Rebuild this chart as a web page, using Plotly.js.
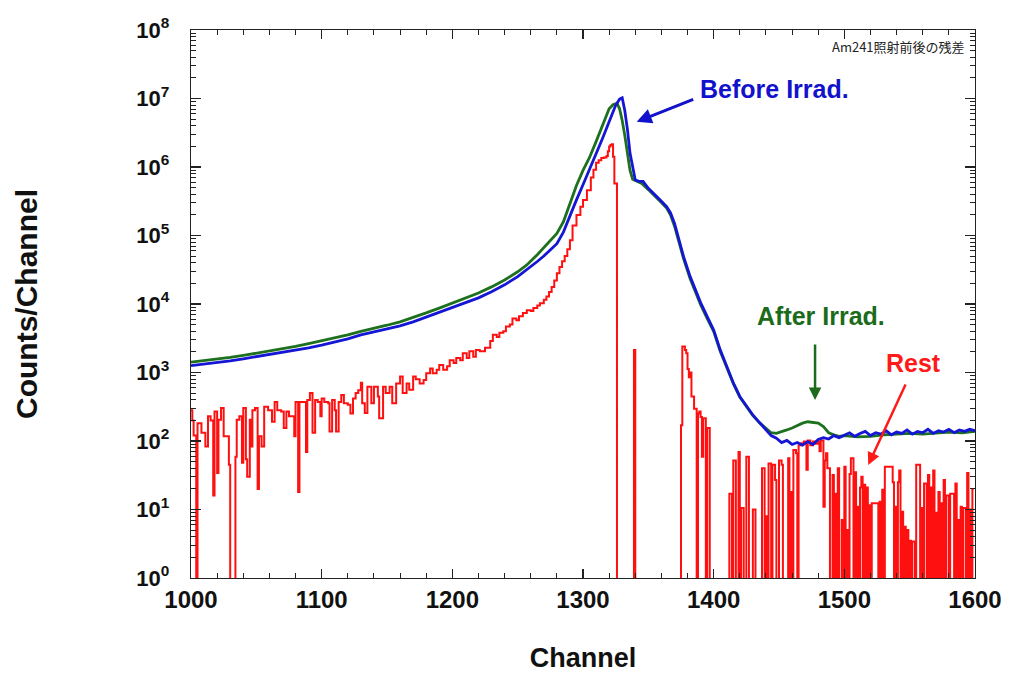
<!DOCTYPE html>
<html>
<head>
<meta charset="utf-8">
<script src="https://cdn.plot.ly/plotly-3.0.1.min.js"></script>
<style>html,body{margin:0;padding:0;background:#fff;}#chart{width:1011px;height:678px;}</style>
</head>
<body>
<div id="chart"></div>
<script>
// ---- Data (counts per channel) ----
const beforeChannels = [1000,1010,1020,1030,1040,1050,1060,1070,1080,1090,1100,1110,1120,1130,1140,1150,1160,1170,1180,1190,1200,1210,1220,1230,1240,1250,1257,1265,1270,1275,1280,1285,1290,1295,1300,1305,1310,1315,1320,1325,1328,1330,1332,1334,1336,1338,1340,1343,1346,1350,1355,1360,1364,1367,1370,1373,1377,1382,1386,1390,1395,1400,1405,1410,1415,1420,1425,1430,1435,1440,1444,1448,1452,1456,1460,1464,1468,1472,1476,1480,1484,1488,1492,1496,1500,1504,1508,1512,1516,1520,1524,1528,1532,1536,1540,1544,1548,1552,1556,1560,1564,1568,1572,1576,1580,1584,1588,1592,1596,1600];
const beforeCounts = [1259,1318,1413,1479,1585,1698,1820,1950,2138,2291,2512,2754,3090,3548,3890,4266,4786,5495,6457,7586,8913,10470,12300,15140,19050,25120,31620,41690,50120,61660,75860,112200,195000,331100,549500,912000,1514000,2630000,4571000,7943000,9772000,10230000,6607000,3548000,1585000,955000,645700,616600,616600,489800,398100,316200,263000,213800,151400,95500,48980,25120,15850,10470,6607,4169,2138,1259,708,447,331,240,186,145,120,110,95,102,89,95,87,98,89,105,112,107,120,112,123,132,117,129,138,120,132,126,141,123,135,129,145,126,138,132,148,129,141,135,148,132,145,138,148,141];

const afterChannels = [1000,1010,1020,1030,1040,1050,1060,1070,1080,1090,1100,1110,1120,1130,1140,1150,1160,1170,1180,1190,1200,1210,1220,1230,1240,1250,1257,1265,1270,1275,1280,1285,1290,1295,1300,1305,1310,1315,1320,1323,1326,1328,1330,1332,1334,1336,1338,1341,1345,1350,1355,1360,1364,1367,1370,1373,1377,1382,1386,1390,1395,1400,1405,1410,1415,1420,1425,1430,1435,1440,1444,1448,1452,1456,1460,1464,1468,1472,1476,1480,1484,1488,1492,1496,1500,1510,1520,1530,1540,1550,1560,1570,1580,1590,1600];
const afterCounts = [1413,1479,1585,1660,1778,1905,2042,2239,2399,2630,2884,3162,3548,3981,4365,4898,5495,6310,7413,8710,10230,12020,14450,17780,22390,29510,37150,52480,66070,85110,107200,158500,302000,537000,891300,1380000,2344000,4169000,7079000,8128000,8511000,7079000,4786000,2884000,1585000,891300,660700,616600,575400,467700,380200,302000,251200,199500,138000,87100,45710,23440,14790,9772,6166,3981,2042,1202,692,437,324,234,186,151,132,129,135,145,155,170,182,191,186,182,162,132,123,117,120,115,117,123,126,129,126,132,135,132,138];

const restChannels = [1000,1001,1002,1004,1005,1008,1011,1013,1015,1017,1018,1020,1021,1023,1025,1029,1030,1034,1035,1037,1039,1040,1042,1043,1045,1046,1047,1049,1051,1052,1054,1056,1059,1062,1064,1066,1069,1071,1073,1075,1078,1079,1080,1082,1083,1086,1088,1089,1091,1093,1095,1097,1099,1100,1102,1105,1106,1108,1110,1111,1113,1115,1117,1120,1122,1124,1126,1128,1130,1131,1133,1135,1138,1140,1143,1144,1147,1149,1152,1154,1157,1160,1162,1165,1167,1170,1172,1175,1178,1180,1183,1185,1188,1190,1193,1196,1198,1201,1203,1206,1208,1211,1213,1216,1218,1221,1225,1229,1231,1234,1236,1239,1241,1244,1246,1249,1251,1254,1257,1260,1262,1265,1267,1270,1272,1274,1276,1278,1280,1282,1284,1286,1288,1290,1292,1295,1298,1300,1303,1306,1308,1310,1312,1314,1316,1318,1319,1320,1321,1322,1323,1324,1326,1339,1340,1375,1376,1377,1378,1379,1380,1381,1382,1383,1385,1387,1388,1389,1390,1391,1392,1394,1395,1397,1412,1414,1415,1417,1419,1420,1421,1423,1425,1427,1430,1432,1437,1439,1440,1441,1442,1444,1445,1447,1448,1450,1452,1453,1457,1458,1459,1460,1461,1463,1464,1465,1467,1469,1471,1472,1474,1476,1478,1480,1481,1482,1484,1485,1486,1487,1489,1491,1492,1493,1494,1495,1496,1498,1499,1500,1501,1502,1503,1504,1505,1507,1508,1509,1510,1511,1512,1513,1514,1515,1516,1517,1518,1519,1520,1521,1526,1527,1528,1529,1530,1531,1537,1538,1539,1540,1541,1542,1543,1544,1545,1546,1547,1548,1549,1550,1551,1552,1554,1555,1558,1559,1560,1561,1563,1564,1565,1566,1567,1568,1569,1570,1571,1572,1573,1574,1575,1576,1577,1578,1580,1581,1584,1585,1586,1587,1588,1589,1590,1591,1593,1594,1595,1596,1597,1598,1599,1600];
const restCounts = [282,200,120,0.1,182,132,83,229,200,16,269,34,204,302,117,45,0.1,59,204,229,48,302,54,30,204,83,282,302,20,117,83,316,282,191,372,282,269,155,269,229,229,117,372,18,372,372,69,398,501,132,398,372,229,417,372,355,138,398,282,138,372,468,355,339,251,417,501,550,708,355,257,617,355,617,447,214,617,501,617,355,692,871,501,692,562,871,800,692,776,977,1148,977,1096,1288,1096,1230,1514,1380,1622,1514,1905,1622,2042,1698,2138,2042,2291,2884,3548,3300,3802,4000,4677,5000,6166,5800,6607,7400,8128,7900,8710,9500,10230,11500,12880,15000,17780,22000,28180,34670,42000,50000,63000,85000,140000,200000,263000,330000,457000,700000,912000,1150000,1250000,1350000,1380000,1450000,1700000,2000000,2100000,2140000,1410000,575000,0.1,2138,0.1,170,2399,2399,2138,1905,1122,851,1000,447,295,0.1,251,269,224,59,214,0.1,155,0.1,17,0.1,52,0.1,69,0.1,10.5,0.1,59,0.1,10,0.1,40,0.1,8,0.1,47,0.1,45,27,0.1,52,45,0.1,56,0.1,18,0.1,74,66,0.1,87,93,98,38,102,87,98,91,98,71,102,11,52,66,40,0.1,32,0.1,17,0.1,40,0.1,7,0.1,42,0.1,5,0.1,33,56,0.1,35,0.1,11,0.1,21,30,0.1,23,0.1,21,0.1,11.5,0.1,12.3,0.1,13,0.1,19.5,0.1,42,25,0.1,11,0.1,25,37,0.1,9.3,0.1,5.6,0.1,5,0.1,3.5,0.1,3.4,0.1,45,0.1,10.5,0.1,24,0.1,32,0.1,21,0.1,37,0.1,9,0.1,18,0.1,12.3,0.1,27,0.1,16,0.1,17,0.1,24,0.1,7,0.1,11,0.1,10.5,0.1,34,0.1,10,0.1,20,20];

const decades = [0,1,2,3,4,5,6,7,8];

// ---- Figure ----
const boldFont = 'Liberation Sans, Arial, sans-serif';
const traces = [
  {x: restChannels, y: restCounts, type: 'scatter', mode: 'lines', line: {color: '#ff1010', width: 2, shape: 'hv'}, name: 'Rest', hoverinfo: 'skip'},
  {x: afterChannels, y: afterCounts, type: 'scatter', mode: 'lines', line: {color: '#1d701d', width: 2.8}, name: 'After Irrad.', hoverinfo: 'skip'},
  {x: beforeChannels, y: beforeCounts, type: 'scatter', mode: 'lines', line: {color: '#1515d6', width: 2.8}, name: 'Before Irrad.', hoverinfo: 'skip'}
];

const layout = {
  width: 1011, height: 678,
  margin: {l: 191, r: 36, t: 30, b: 100},
  paper_bgcolor: '#fff', plot_bgcolor: '#fff',
  showlegend: false,
  xaxis: {
    range: [1000, 1600], dtick: 100, tick0: 1000,
    showgrid: false, zeroline: false,
    showline: true, linecolor: '#222', linewidth: 1.3, mirror: 'allticks',
    ticks: 'inside', ticklen: 9, tickwidth: 1.3, tickcolor: '#222',
    minor: {dtick: 20, ticks: 'inside', ticklen: 5, tickwidth: 1.1, tickcolor: '#222', showgrid: false},
    tickfont: {family: boldFont, size: 24, color: '#111', weight: 'bold'},
    ticklabelstandoff: 0,
    title: {text: 'Channel', font: {family: boldFont, size: 27, color: '#111', weight: 'bold'}, standoff: 36}
  },
  yaxis: {
    type: 'log', range: [0, 8],
    tickvals: decades.map(d => Math.pow(10, d)),
    ticktext: decades.map(d => '10<sup>' + d + '</sup>'),
    showgrid: false, zeroline: false,
    showline: true, linecolor: '#222', linewidth: 1.3, mirror: 'allticks',
    ticks: 'inside', ticklen: 10, tickwidth: 1.3, tickcolor: '#222',
    minor: {dtick: 'D1', ticks: 'inside', ticklen: 5, tickwidth: 1, tickcolor: '#222', showgrid: false},
    tickfont: {family: boldFont, size: 22, color: '#111', weight: 'bold'},
    ticklabelstandoff: 16,
    title: {text: 'Counts/Channel', font: {family: boldFont, size: 30, color: '#111', weight: 'bold'}, standoff: 89}
  },
  annotations: [
    {x: 1593.9, y: 7.752, xref: 'x', yref: 'y', text: 'Am241照射前後の残差', showarrow: false, xanchor: 'right', yanchor: 'middle',
     font: {family: 'Noto Sans CJK JP, sans-serif', size: 13, color: '#222'}},
    {x: 1446.9, y: 7.139, xref: 'x', yref: 'y', text: 'Before Irrad.', showarrow: false, xanchor: 'center', yanchor: 'middle',
     font: {family: boldFont, size: 25, color: '#1212cc', weight: 'bold'}},
    {x: 1341.1, y: 6.661, xref: 'x', yref: 'y', text: '', showarrow: true, ax: 58, ay: -23, arrowhead: 2, arrowsize: 1, arrowwidth: 3, arrowcolor: '#1212cc', standoff: 0},
    {x: 1482.1, y: 3.825, xref: 'x', yref: 'y', text: 'After Irrad.', showarrow: false, xanchor: 'center', yanchor: 'middle',
     font: {family: boldFont, size: 25, color: '#1b6b1b', weight: 'bold'}},
    {x: 1477.6, y: 2.599, xref: 'x', yref: 'y', text: '', showarrow: true, ax: 0, ay: -57, arrowhead: 2, arrowsize: 1, arrowwidth: 2.5, arrowcolor: '#1b6b1b', standoff: 0},
    {x: 1552.6, y: 3.139, xref: 'x', yref: 'y', text: 'Rest', showarrow: false, xanchor: 'center', yanchor: 'middle',
     font: {family: boldFont, size: 25, color: '#ff1a1a', weight: 'bold'}},
    {x: 1518.3, y: 1.650, xref: 'x', yref: 'y', text: '', showarrow: true, ax: 38, ay: -82, arrowhead: 2, arrowsize: 1, arrowwidth: 2.5, arrowcolor: '#ff1a1a', standoff: 0}
  ]
};

Plotly.newPlot('chart', traces, layout, {displayModeBar: false, staticPlot: true});
</script>
</body>
</html>
